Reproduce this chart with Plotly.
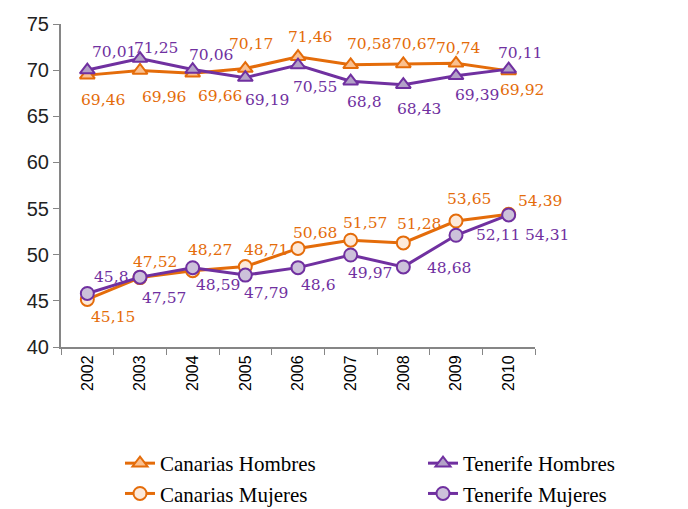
import plotly.graph_objects as go

years = ["2002", "2003", "2004", "2005", "2006", "2007", "2008", "2009", "2010"]

canarias_hombres = [69.46, 69.96, 69.66, 70.17, 71.46, 70.58, 70.67, 70.74, 69.92]
tenerife_hombres = [70.01, 71.25, 70.06, 69.19, 70.55, 68.8, 68.43, 69.39, 70.11]
canarias_mujeres = [45.15, 47.52, 48.27, 48.71, 50.68, 51.57, 51.28, 53.65, 54.39]
tenerife_mujeres = [45.8, 47.57, 48.59, 47.79, 48.6, 49.97, 48.68, 52.11, 54.31]

y_ticks = [40, 45, 50, 55, 60, 65, 70, 75]

ORANGE = "#E46C0A"
PURPLE = "#7030A0"

# pixel offsets (dx, dy; dy positive = up) of each value label from its point
off_ch = [(16, -25), (24, -26), (27, -23), (6, 25), (12, 20), (18, 21), (11, 20), (2, 15), (13, -19)]
off_th = [(27, 18), (16, 11), (18, 15), (22, -22), (17, -22), (14, -21), (16, -24), (21, -19), (11, 16)]
off_cm = [(26, -18), (15, 16), (17, 21), (21, 17), (17, 15), (14, 17), (16, 19), (13, 22), (31, 13)]
off_tm = [(24, 16), (24, -21), (25, -17), (21, -18), (20, -17), (19, -18), (46, -1), (42, 0), (38, -20)]

series = [
    ("Canarias Hombres", canarias_hombres, ORANGE, "#FAC090", "triangle-up", off_ch, "legend"),
    ("Tenerife Hombres", tenerife_hombres, PURPLE, "#B3A2C7", "triangle-up", off_th, "legend2"),
    ("Canarias Mujeres", canarias_mujeres, ORANGE, "#FDE9D9", "circle", off_cm, "legend"),
    ("Tenerife Mujeres", tenerife_mujeres, PURPLE, "#CCC1DA", "circle", off_tm, "legend2"),
]


def fmt(v):
    s = f"{v:.2f}".rstrip("0").rstrip(".")
    return s.replace(".", ",")


fig = go.Figure()
annotations = []
for name, vals, col, fill, sym, offs, leg in series:
    fig.add_trace(go.Scatter(
        x=years, y=vals, name=name, mode="lines+markers",
        legend=leg, legendgroup=name,
        line=dict(color=col, width=3),
        marker=dict(symbol=sym, size=13, color=fill, line=dict(color=col, width=2)),
    ))
    for i, (v, (dx, dy)) in enumerate(zip(vals, offs)):
        annotations.append(dict(
            x=i, y=v, xref="x", yref="y", text=fmt(v), showarrow=False,
            xshift=dx, yshift=dy,
            font=dict(family="DejaVu Serif", size=15.5, color=col),
        ))

legend_style = dict(
    orientation="v", xref="container", yref="container",
    yanchor="top", y=1 - 443 / 509,
    font=dict(family="Liberation Serif", size=21, color="black"),
    itemwidth=30, tracegroupgap=0, bgcolor="rgba(0,0,0,0)",
)

fig.update_layout(
    width=688, height=509,
    margin=dict(l=61, r=153, t=24, b=162, autoexpand=False),
    paper_bgcolor="white", plot_bgcolor="white",
    annotations=annotations,
    showlegend=True,
    legend=dict(legend_style, x=120 / 688, xanchor="left"),
    legend2=dict(legend_style, x=423 / 688, xanchor="left"),
    xaxis=dict(
        type="category", categoryorder="array", categoryarray=years,
        showline=True, linecolor="#868686", linewidth=2,
        ticks="outside", tickson="boundaries", ticklen=6, tickcolor="#868686",
        tickangle=-90, showgrid=False,
        tickfont=dict(family="Liberation Sans", size=16, color="black"),
        range=[-0.5, 8.5],
    ),
    yaxis=dict(
        range=[40, 75], tickvals=y_ticks,
        showline=True, linecolor="#868686", linewidth=2,
        ticks="outside", ticklen=6, tickcolor="#868686",
        showgrid=False, zeroline=False,
        tickfont=dict(family="Liberation Sans", size=20, color="#222222"),
    ),
)

fig.write_html("out.html")
